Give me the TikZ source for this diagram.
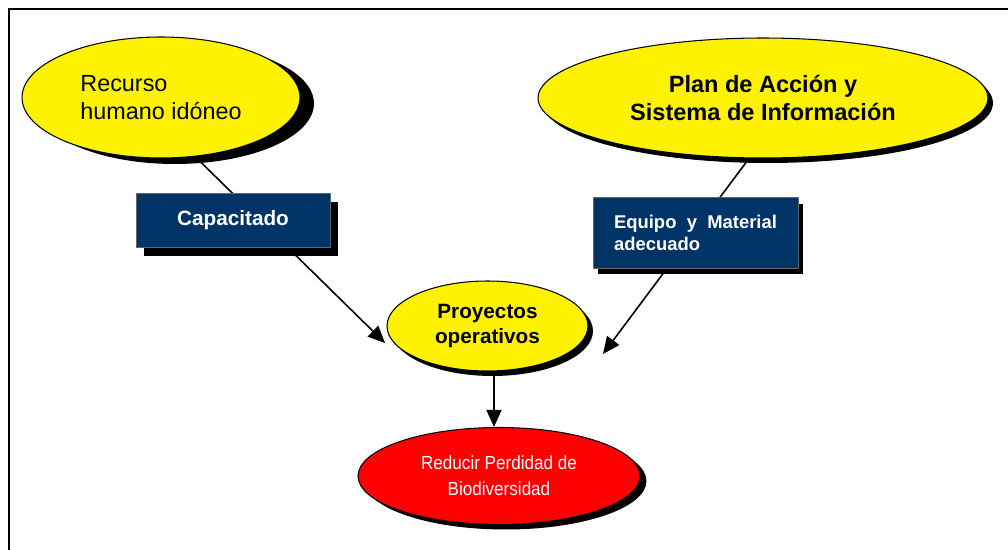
\documentclass[tikz,border=0pt]{standalone}
\usepackage{fontspec}
\setmainfont{Liberation Sans}
\newfontfamily\narrowfont[FakeStretch=0.9]{Liberation Sans}
\usepackage{xcolor}
\usepackage{tikz}
\usetikzlibrary{positioning,shapes.geometric,shadows,arrows.meta}
\definecolor{navy}{RGB}{0,51,102}
\pgfdeclarelayer{bg}
\pgfsetlayers{bg,main}

\begin{document}
\begin{tikzpicture}[x=0.02cm,y=-0.02cm,
    oval/.style={ellipse,draw,line width=0.6pt,inner sep=0pt},
    bluebox/.style={rectangle,draw=black!60,line width=0.5pt,fill=navy,text=white,inner sep=0pt},
    link/.style={line width=0.9pt,-{Triangle[length=0.34cm,width=0.3cm]}}]
    \useasboundingbox (0,0) rectangle (1008,550);
    \draw[line width=1.1pt] (9,9) rectangle (1020,560);
    \node [oval,fill=yellow,minimum width=5.56cm,minimum height=2.42cm,
      drop shadow={shadow xshift=0.28cm,shadow yshift=-0.12cm,opacity=1,fill=black},
      align=left,font=\fontsize{13.3}{15.9}\selectfont] (rec) at (161,97.5) {Recurso\\humano idóneo};
    \node [oval,fill=yellow,minimum width=9cm,minimum height=2.4cm,
      drop shadow={shadow xshift=0.1cm,shadow yshift=-0.1cm,opacity=1,fill=black},
      align=center,font=\fontsize{13.4}{15.9}\selectfont\bfseries] (plan) at (763,98) {Plan de Acción y\\Sistema de Información};
    \node [bluebox,minimum width=3.88cm,minimum height=1.08cm,
      drop shadow={shadow xshift=0.16cm,shadow yshift=-0.18cm,opacity=1,fill=black},
      font=\fontsize{11.8}{14}\selectfont\bfseries] (cap) at (233,220) {Capacitado};
    \node [bluebox,minimum width=4.1cm,minimum height=1.42cm,
      drop shadow={shadow xshift=0.1cm,shadow yshift=-0.12cm,opacity=1,fill=black},
      align=left,font=\fontsize{10.5}{12.5}\selectfont\bfseries] (equipo) at (695.5,233) {\makebox[3.26cm][s]{Equipo y Material}\\adecuado};
    \node [oval,fill=yellow,minimum width=4.02cm,minimum height=1.8cm,
      drop shadow={shadow xshift=0.1cm,shadow yshift=-0.1cm,opacity=1,fill=black},
      align=center,font=\fontsize{11.8}{14.2}\selectfont\bfseries] (proy) at (487.5,326) {Proyectos\\operativos};
    \node [oval,fill=red,minimum width=5.64cm,minimum height=1.94cm,
      drop shadow={shadow xshift=0.13cm,shadow yshift=-0.1cm,opacity=1,fill=black},
      align=center,text=white,font=\fontsize{10.8}{14.8}\selectfont\narrowfont] (meta) at (499,476) {Reducir Perdidad de\\Biodiversidad};
    \coordinate (tipL) at (385,343);
    \coordinate (tipR) at (603,354);
    \begin{pgfonlayer}{bg}
    \draw[link] (rec.-60) -- (tipL);
    \draw[link] (plan.-103) -- (tipR);
    \draw[link] ([xshift=0.13cm]proy.south) -- ([xshift=0.13cm]proy.south |- meta.north);
    \end{pgfonlayer}
\end{tikzpicture}
\end{document}
